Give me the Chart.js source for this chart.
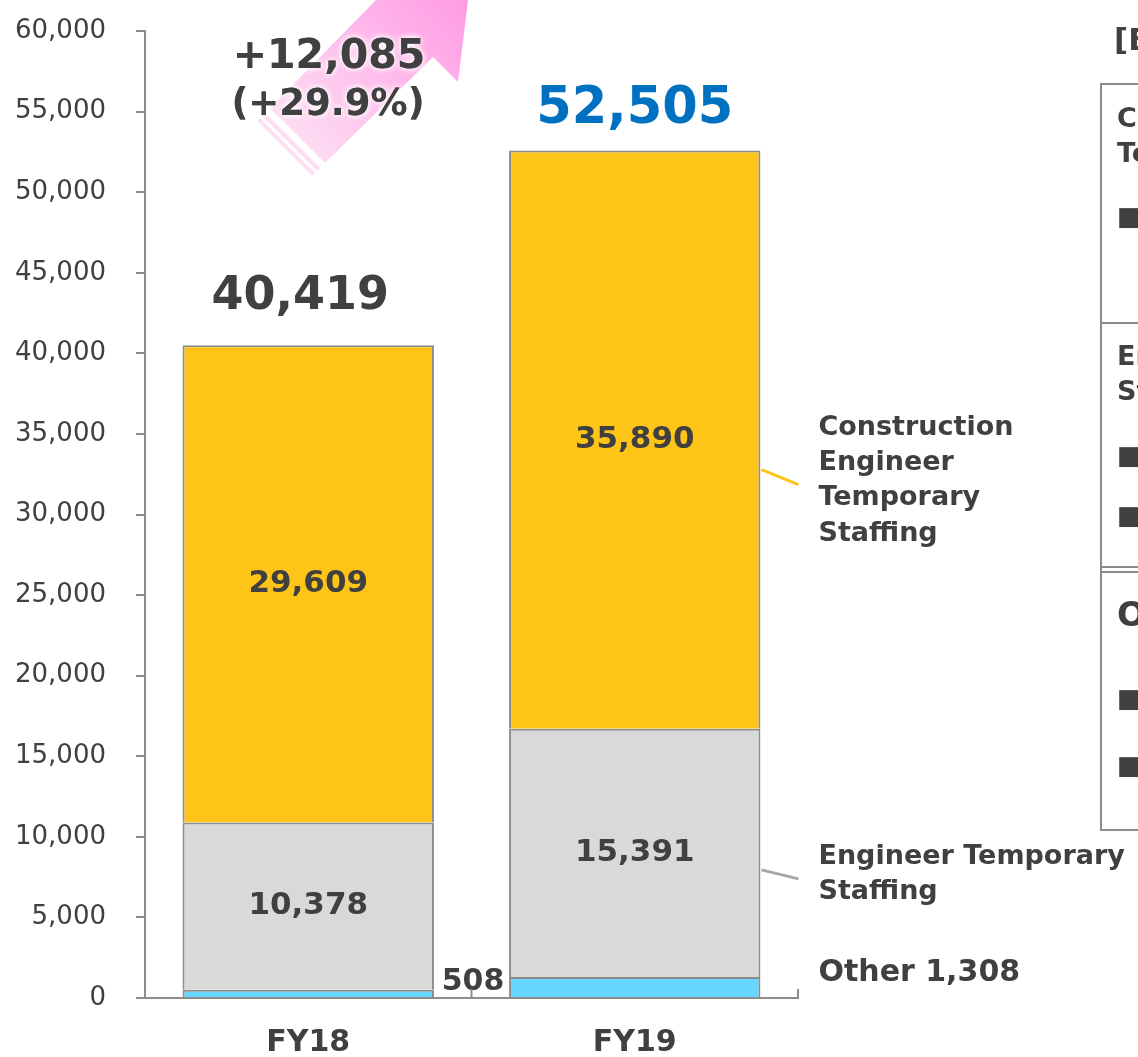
<!DOCTYPE html>
<html><head><meta charset="utf-8">
<script src="https://cdn.jsdelivr.net/npm/chart.js@4.4.1/dist/chart.umd.min.js"></script>
<style>html,body{margin:0;padding:0;background:#fff;overflow:hidden}canvas{display:block}</style>
</head><body>
<canvas id="c" width="1138" height="1057"></canvas>
<script>
// ---- data ----
const categories = ['FY18', 'FY19'];
const otherValues = [508, 1308];
const engineerValues = [10378, 15391];
const constructionValues = [29609, 35890];
const totalValues = [40419, 52505];
const changeLabels = ['+12,085', '(+29.9%)'];
const seriesNames = ['Other', 'Engineer Temporary Staffing', 'Construction Engineer Temporary Staffing'];
const yMax = 60000;
const yStep = 5000;
const panelTitle = '[Business overview]';
const panelSections = [
  ['Construction Engineer', 'Temporary Staffing'],
  ['Engineer Temporary', 'Staffing'],
  ['Other']
];

// ---- style ----
const FONT = '"DejaVu Sans", Verdana, sans-serif';
const TEXT = '#404040';
const AXIS = '#8C8C8C';
const fmt = v => v.toLocaleString('en-US');

function txt(ctx, s, x, y, size, color, align, weight) {
  ctx.font = (weight || 'bold') + ' ' + size + 'px ' + FONT;
  ctx.fillStyle = color;
  ctx.textAlign = align || 'center';
  ctx.textBaseline = 'middle';
  ctx.fillText(s, x, y);
}

const arrowPlugin = {
  id: 'arrow',
  beforeDatasetsDraw(chart) {
    const ctx = chart.ctx;
    ctx.save();
    const g = ctx.createLinearGradient(280, 170, 470, -10);
    g.addColorStop(0, '#FDE6F5');
    g.addColorStop(1, '#FF98E4');
    ctx.fillStyle = g;
    ctx.beginPath();
    ctx.moveTo(270, 108);
    ctx.lineTo(325, 163);
    ctx.lineTo(433, 57);
    ctx.lineTo(458, 82);
    ctx.lineTo(473, -40);
    ctx.lineTo(350, -25);
    ctx.lineTo(376, 0);
    ctx.closePath();
    ctx.fill();
    const stripe = (o) => {
      const dx = -o * 0.7071, dy = o * 0.7071;
      ctx.beginPath();
      ctx.moveTo(270 + dx, 108 + dy);
      ctx.lineTo(325 + dx, 163 + dy);
      ctx.lineTo(325 + dx - 3, 163 + dy + 3);
      ctx.lineTo(270 + dx - 3, 108 + dy + 3);
      ctx.closePath();
      ctx.fill();
    };
    stripe(7);
    stripe(14);
    ctx.restore();
  }
};

const labelPlugin = {
  id: 'labels',
  afterDatasetsDraw(chart) {
    const ctx = chart.ctx;
    ctx.save();
    const mOther = chart.getDatasetMeta(0).data;
    const mEng = chart.getDatasetMeta(1).data;
    const mCon = chart.getDatasetMeta(2).data;
    const last = categories.length - 1;
    [[mEng, engineerValues], [mCon, constructionValues]].forEach(([els, vals]) => {
      els.forEach((el, i) => {
        txt(ctx, fmt(vals[i]), el.x, (el.y + el.base) / 2, 31, TEXT);
      });
    });
    const o0 = mOther[0];
    txt(ctx, fmt(otherValues[0]), o0.x + o0.width / 2 + 39, o0.y - 8, 30, TEXT);
    const tSizes = [46, 51], tColors = [TEXT, '#0070C0'], tOff = [-48, -41], tDx = [-8, 0];
    mCon.forEach((el, i) => {
      txt(ctx, fmt(totalValues[i]), el.x + tDx[i], el.y + tOff[i], tSizes[i], tColors[i]);
    });
    const cEl = mCon[last], eEl = mEng[last], oEl = mOther[last];
    const x0 = cEl.x + cEl.width / 2;
    const lx = x0 + 58;
    ctx.lineWidth = 3;
    let mid = (cEl.y + cEl.base) / 2;
    ctx.strokeStyle = '#FEC418';
    ctx.beginPath(); ctx.moveTo(x0 + 1, mid + 30); ctx.lineTo(x0 + 38, mid + 45); ctx.stroke();
    ['Construction', 'Engineer', 'Temporary', 'Staffing'].forEach((s, k) => {
      txt(ctx, s, lx, mid - 12 + k * 35.3, 27, TEXT, 'left');
    });
    mid = (eEl.y + eEl.base) / 2;
    ctx.strokeStyle = '#A6A6A6';
    ctx.beginPath(); ctx.moveTo(x0 + 1, mid + 17); ctx.lineTo(x0 + 38, mid + 26); ctx.stroke();
    ['Engineer Temporary', 'Staffing'].forEach((s, k) => {
      txt(ctx, s, lx, mid + 4 + k * 35.3, 27, TEXT, 'left');
    });
    txt(ctx, seriesNames[0] + ' ' + fmt(otherValues[last]), lx, oEl.y - 4, 30, TEXT, 'left');

    ctx.shadowColor = 'rgba(255,255,255,1)';
    ctx.shadowBlur = 6;
    for (let r = 0; r < 2; r++) {
      txt(ctx, changeLabels[0], 329, 57, 41, TEXT);
      txt(ctx, changeLabels[1], 328, 105, 37, TEXT);
    }
    ctx.restore();
  },
  afterDraw(chart) {
    const ctx = chart.ctx;
    ctx.save();
    const xs = chart.scales.x;
    const bottom = chart.chartArea.bottom;
    ctx.strokeStyle = AXIS;
    ctx.lineWidth = 2;
    const half = (xs.getPixelForValue(1) - xs.getPixelForValue(0)) / 2;
    for (let i = 0; i < categories.length; i++) {
      const bx = xs.getPixelForValue(i) + half;
      ctx.beginPath(); ctx.moveTo(bx, bottom); ctx.lineTo(bx, bottom - 9); ctx.stroke();
    }
    txt(ctx, panelTitle, 1114, 42, 31, TEXT, 'left');
    ctx.strokeStyle = '#8C8C8C';
    ctx.lineWidth = 2;
    ctx.strokeRect(1101, 84, 100, 746);
    [[323], [567, 572]].forEach(ys => ys.forEach(y => {
      ctx.beginPath(); ctx.moveTo(1101, y); ctx.lineTo(1138, y); ctx.stroke();
    }));
    const sec = [
      { y: 120, size: 27, bullets: [218] },
      { y: 358, size: 27, bullets: [457, 517] },
      { y: 617, size: 34, bullets: [700, 767] }
    ];
    sec.forEach((s, i) => {
      panelSections[i].forEach((line, k) => txt(ctx, line, 1117, s.y + k * 35, s.size, TEXT, 'left'));
      s.bullets.forEach(by => txt(ctx, '\u25A0 ' + panelSections[i].join(' '), 1117, by, 26, TEXT, 'left', 'normal'));
    });
    ctx.restore();
  }
};

new Chart(document.getElementById('c'), {
  type: 'bar',
  data: {
    labels: categories,
    datasets: [
      { label: seriesNames[0], data: otherValues, backgroundColor: '#66D7FF' },
      { label: seriesNames[1], data: engineerValues, backgroundColor: '#D9D9D9' },
      { label: seriesNames[2], data: constructionValues, backgroundColor: '#FEC418' }
    ].map(d => Object.assign(d, {
      borderColor: '#8C8C8C', borderWidth: 2, borderSkipped: 'start',
      barPercentage: 0.77, categoryPercentage: 1
    }))
  },
  options: {
    responsive: false,
    animation: false,
    events: [],
    layout: { padding: { left: 0, right: 340, top: 31, bottom: 0 } },
    plugins: { legend: { display: false }, tooltip: { enabled: false } },
    scales: {
      x: {
        stacked: true,
        grid: { display: false, drawTicks: false },
        border: { display: true, color: AXIS, width: 2 },
        ticks: { color: TEXT, font: { family: FONT, size: 30, weight: 'bold' }, padding: 27 },
        afterFit: s => { s.height = 59; s.paddingLeft = 0; s.paddingRight = 0; }
      },
      y: {
        stacked: true,
        min: 0, max: yMax,
        grid: { drawOnChartArea: false, drawTicks: true, tickLength: 9, color: AXIS, lineWidth: 2 },
        border: { display: true, color: AXIS, width: 2 },
        ticks: { stepSize: yStep, color: TEXT, font: { family: FONT, size: 26 }, padding: 30, callback: v => fmt(v) },
        afterFit: s => { s.width = 145; s.paddingTop = 0; s.paddingBottom = 0; }
      }
    }
  },
  plugins: [arrowPlugin, labelPlugin]
});
</script>
</body></html>
